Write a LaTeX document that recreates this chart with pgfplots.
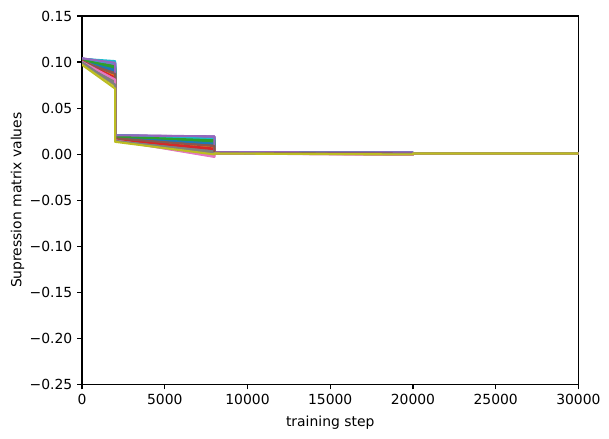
\documentclass[border=0pt]{standalone}
\usepackage{fontspec}
\setmainfont{DejaVu Sans}
\usepackage{pgfplots}
\pgfplotsset{compat=1.18}

\definecolor{c0}{HTML}{1F77B4}
\definecolor{c1}{HTML}{FF7F0E}
\definecolor{c2}{HTML}{2CA02C}
\definecolor{c3}{HTML}{D62728}
\definecolor{c4}{HTML}{9467BD}
\definecolor{c5}{HTML}{8C564B}
\definecolor{c6}{HTML}{E377C2}
\definecolor{c7}{HTML}{7F7F7F}
\definecolor{c8}{HTML}{BCBD22}
\definecolor{c9}{HTML}{17BECF}

\pgfplotscreateplotcyclelist{tab10}{
  {c0},{c1},{c2},{c3},{c4},{c5},{c6},{c7},{c8},{c9}}

\begin{document}
\begin{tikzpicture}
\begin{axis}[
  scale only axis,
  width=357pt, height=265pt,
  xmin=0, xmax=30000, ymin=-0.25, ymax=0.15,
  xtick={0,5000,10000,15000,20000,25000,30000},
  xticklabels={0,5000,10000,15000,20000,25000,30000},
  ytick={-0.25,-0.20,-0.15,-0.10,-0.05,0,0.05,0.10,0.15},
  yticklabels={−0.25,−0.20,−0.15,−0.10,−0.05,0.00,0.05,0.10,0.15},
  scaled ticks=false,
  tick align=outside, tick pos=left,
  major tick length=3.5pt,
  every tick/.style={black, line width=0.8pt},
  axis line style={line width=0.8pt},
  tick label style={font=\fontsize{10}{12}\selectfont},
  label style={font=\fontsize{10}{12}\selectfont},
  xlabel={training step},
  ylabel={Supression matrix values},
  xlabel style={yshift=-1pt},
  ylabel style={yshift=-3pt},
  cycle list name=tab10,
  every axis plot/.append style={line width=1.5pt, line join=round, mark=none},
]
\addplot coordinates {(0,.1030)(2000,.0950)(2000,.0190)(8000,.0120)(8000,.0016)(20000,.0010)(20000,.0008)(30000,.0008)};
\addplot coordinates {(0,.1020)(2000,.0880)(2000,.0172)(8000,.0060)(8000,.0012)(20000,.0005)(20000,.0008)(30000,.0007)};
\addplot coordinates {(0,.1032)(2000,.0965)(2000,.0198)(8000,.0155)(8000,.0018)(20000,.0012)(20000,.0008)(30000,.0008)};
\addplot coordinates {(0,.1018)(2000,.0845)(2000,.0168)(8000,.0075)(8000,.0013)(20000,.0004)(20000,.0008)(30000,.0008)};
\addplot coordinates {(0,.1040)(2000,.0990)(2000,.0204)(8000,.0190)(8000,.0022)(20000,.0018)(20000,.0009)(30000,.0009)};
\addplot coordinates {(0,.1012)(2000,.0900)(2000,.0180)(8000,.0100)(8000,.0014)(20000,.0008)(20000,.0008)(30000,.0008)};
\addplot coordinates {(0,.1010)(2000,.0860)(2000,.0160)(8000,.0010)(8000,.0010)(20000,.0001)(20000,.0007)(30000,.0007)};
\addplot coordinates {(0,.1005)(2000,.0800)(2000,.0152)(8000,.0045)(8000,.0011)(20000,.0003)(20000,.0008)(30000,.0008)};
\addplot coordinates {(0,.1002)(2000,.0790)(2000,.0150)(8000,.0030)(8000,.0010)(20000,.0002)(20000,.0007)(30000,.0007)};
\addplot coordinates {(0,.1035)(2000,.1010)(2000,.0206)(8000,.0180)(8000,.0020)(20000,.0016)(20000,.0008)(30000,.0008)};
\addplot coordinates {(0,.1025)(2000,.0920)(2000,.0184)(8000,.0135)(8000,.0015)(20000,.0009)(20000,.0008)(30000,.0008)};
\addplot coordinates {(0,.1015)(2000,.0870)(2000,.0170)(8000,.0090)(8000,.0013)(20000,.0006)(20000,.0008)(30000,.0008)};
\addplot coordinates {(0,.1028)(2000,.0935)(2000,.0188)(8000,.0140)(8000,.0017)(20000,.0011)(20000,.0008)(30000,.0008)};
\addplot coordinates {(0,.1014)(2000,.0850)(2000,.0166)(8000,.0065)(8000,.0012)(20000,.0004)(20000,.0008)(30000,.0008)};
\addplot coordinates {(0,.1036)(2000,.0975)(2000,.0202)(8000,.0185)(8000,.0021)(20000,.0017)(20000,.0009)(30000,.0009)};
\addplot coordinates {(0,.1008)(2000,.0830)(2000,.0162)(8000,.0050)(8000,.0011)(20000,.0003)(20000,.0008)(30000,.0008)};
\addplot coordinates {(0,.1006)(2000,.0840)(2000,.0158)(8000,-.0010)(8000,.0009)(20000,-.0002)(20000,.0007)(30000,.0007)};
\addplot coordinates {(0,.1004)(2000,.0780)(2000,.0150)(8000,.0035)(8000,.0010)(20000,.0002)(20000,.0008)(30000,.0008)};
\addplot coordinates {(0,.1000)(2000,.0760)(2000,.0146)(8000,.0015)(8000,.0009)(20000,.0000)(20000,.0007)(30000,.0007)};
\addplot coordinates {(0,.1034)(2000,.0995)(2000,.0204)(8000,.0170)(8000,.0019)(20000,.0014)(20000,.0008)(30000,.0008)};
\addplot coordinates {(0,.1022)(2000,.0910)(2000,.0182)(8000,.0110)(8000,.0015)(20000,.0009)(20000,.0008)(30000,.0008)};
\addplot coordinates {(0,.1016)(2000,.0865)(2000,.0168)(8000,.0085)(8000,.0013)(20000,.0006)(20000,.0008)(30000,.0008)};
\addplot coordinates {(0,.1026)(2000,.0945)(2000,.0192)(8000,.0125)(8000,.0016)(20000,.0010)(20000,.0008)(30000,.0008)};
\addplot coordinates {(0,.1012)(2000,.0835)(2000,.0164)(8000,.0070)(8000,.0012)(20000,.0005)(20000,.0008)(30000,.0008)};
\addplot coordinates {(0,.1038)(2000,.0985)(2000,.0203)(8000,.0192)(8000,.0022)(20000,.0018)(20000,.0009)(30000,.0009)};
\addplot coordinates {(0,.1010)(2000,.0895)(2000,.0178)(8000,.0095)(8000,.0014)(20000,.0007)(20000,.0008)(30000,.0008)};
\addplot coordinates {(0,.1004)(2000,.0820)(2000,.0155)(8000,-.0020)(8000,.0008)(20000,-.0004)(20000,.0007)(30000,.0007)};
\addplot coordinates {(0,.1002)(2000,.0770)(2000,.0148)(8000,.0025)(8000,.0010)(20000,.0001)(20000,.0008)(30000,.0008)};
\addplot coordinates {(0,.0995)(2000,.0750)(2000,.0142)(8000,.0010)(8000,.0008)(20000,-.0001)(20000,.0007)(30000,.0007)};
\addplot coordinates {(0,.1033)(2000,.1000)(2000,.0205)(8000,.0175)(8000,.0019)(20000,.0015)(20000,.0008)(30000,.0008)};
\addplot coordinates {(0,.1024)(2000,.0930)(2000,.0186)(8000,.0145)(8000,.0016)(20000,.0010)(20000,.0008)(30000,.0008)};
\addplot coordinates {(0,.1017)(2000,.0875)(2000,.0171)(8000,.0080)(8000,.0013)(20000,.0005)(20000,.0008)(30000,.0008)};
\addplot coordinates {(0,.1029)(2000,.0955)(2000,.0195)(8000,.0130)(8000,.0017)(20000,.0011)(20000,.0008)(30000,.0008)};
\addplot coordinates {(0,.1011)(2000,.0825)(2000,.0160)(8000,.0055)(8000,.0011)(20000,.0003)(20000,.0008)(30000,.0008)};
\addplot coordinates {(0,.1037)(2000,.0980)(2000,.0201)(8000,.0188)(8000,.0021)(20000,.0017)(20000,.0009)(30000,.0009)};
\addplot coordinates {(0,.1009)(2000,.0885)(2000,.0176)(8000,.0105)(8000,.0014)(20000,.0008)(20000,.0008)(30000,.0008)};
\addplot coordinates {(0,.1003)(2000,.0815)(2000,.0152)(8000,-.0025)(8000,.0008)(20000,-.0005)(20000,.0007)(30000,.0007)};
\addplot coordinates {(0,.1001)(2000,.0765)(2000,.0147)(8000,.0020)(8000,.0009)(20000,.0001)(20000,.0008)(30000,.0008)};
\addplot coordinates {(0,.0990)(2000,.0740)(2000,.0140)(8000,.0005)(8000,.0008)(20000,-.0002)(20000,.0007)(30000,.0007)};
\addplot coordinates {(0,.1031)(2000,.0990)(2000,.0203)(8000,.0165)(8000,.0019)(20000,.0014)(20000,.0008)(30000,.0008)};
\addplot coordinates {(0,.1021)(2000,.0905)(2000,.0181)(8000,.0115)(8000,.0015)(20000,.0009)(20000,.0008)(30000,.0008)};
\addplot coordinates {(0,.1013)(2000,.0855)(2000,.0167)(8000,.0075)(8000,.0013)(20000,.0005)(20000,.0008)(30000,.0008)};
\addplot coordinates {(0,.1027)(2000,.0940)(2000,.0190)(8000,.0150)(8000,.0017)(20000,.0011)(20000,.0008)(30000,.0008)};
\addplot coordinates {(0,.1010)(2000,.0830)(2000,.0163)(8000,.0060)(8000,.0012)(20000,.0004)(20000,.0008)(30000,.0008)};
\addplot coordinates {(0,.1039)(2000,.0992)(2000,.0205)(8000,.0193)(8000,.0022)(20000,.0018)(20000,.0009)(30000,.0009)};
\addplot coordinates {(0,.1007)(2000,.0870)(2000,.0172)(8000,.0088)(8000,.0013)(20000,.0006)(20000,.0008)(30000,.0008)};
\addplot coordinates {(0,.1002)(2000,.0810)(2000,.0150)(8000,-.0030)(8000,.0007)(20000,-.0006)(20000,.0007)(30000,.0007)};
\addplot coordinates {(0,.0998)(2000,.0755)(2000,.0145)(8000,.0012)(8000,.0009)(20000,.0000)(20000,.0008)(30000,.0008)};
\addplot coordinates {(0,.0970)(2000,.0712)(2000,.0134)(8000,-.0003)(8000,.0007)(20000,-.0003)(20000,.0007)(30000,.0007)};
\end{axis}
\pgfresetboundingbox
\path[use as bounding box] (current axis.south west) ++(-59pt,-39pt) rectangle ([shift={(22pt,11.5pt)}]current axis.north east);
\end{tikzpicture}
\end{document}
